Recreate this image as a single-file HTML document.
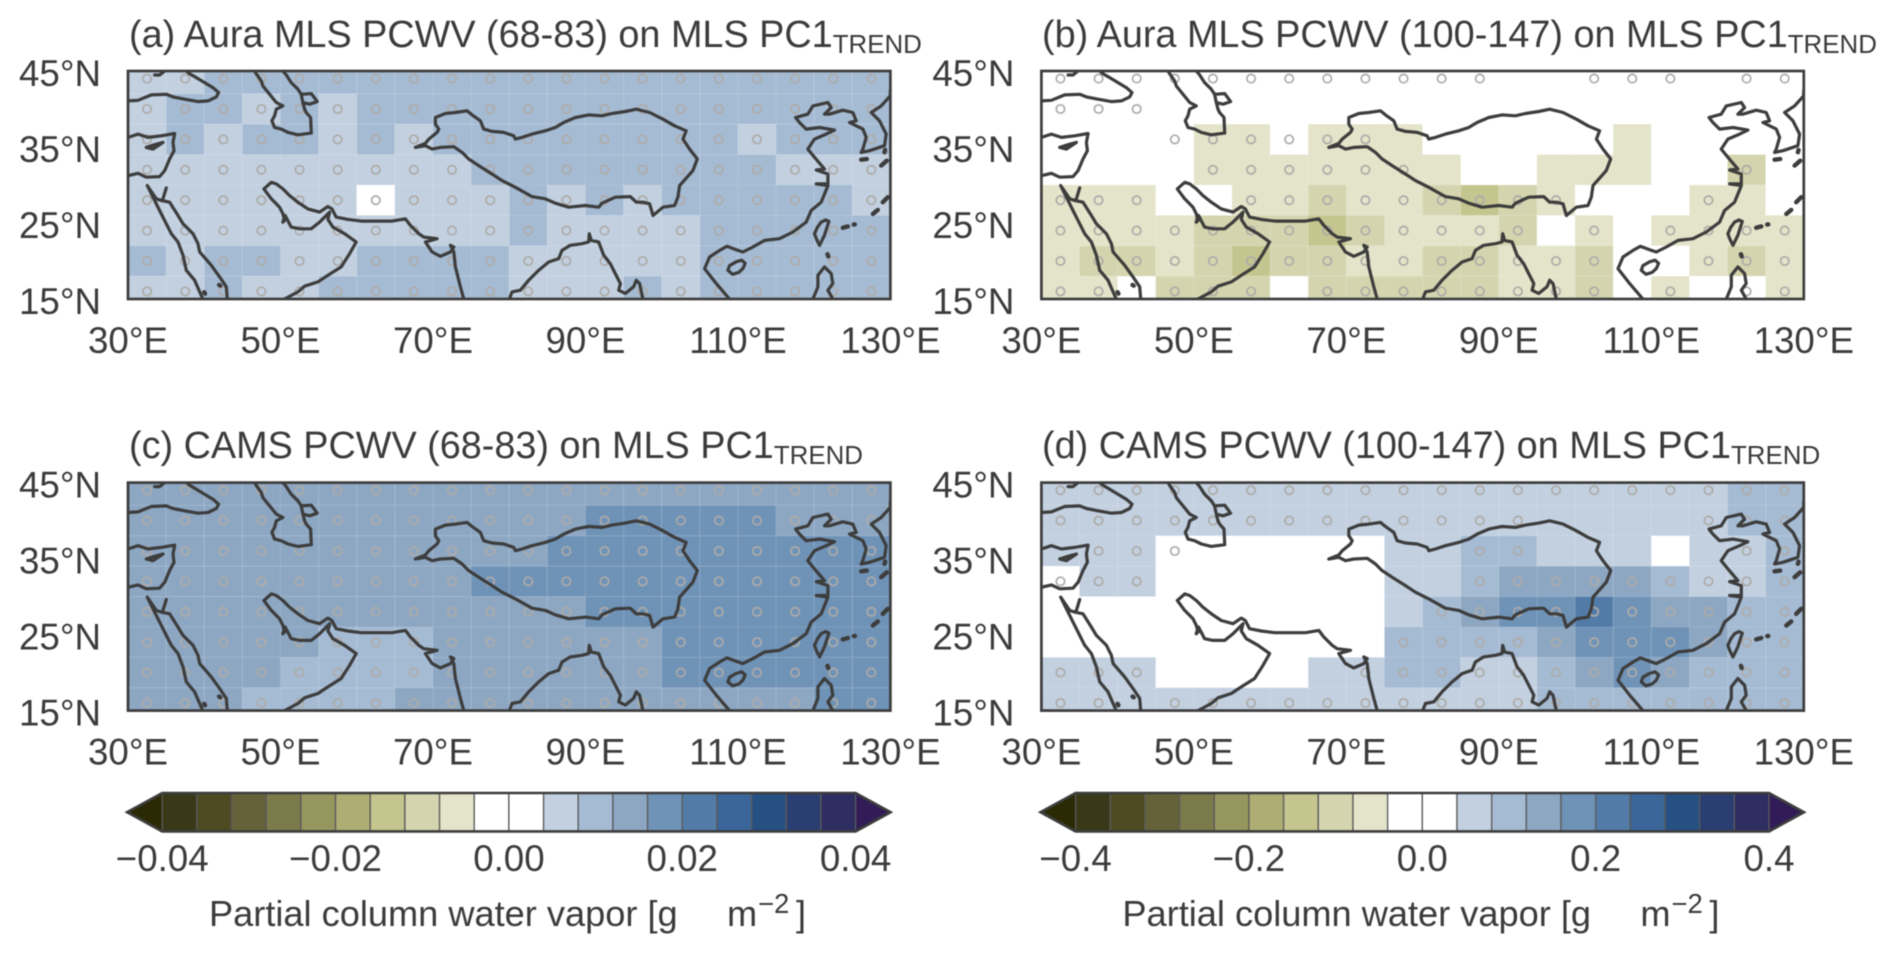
<!DOCTYPE html>
<html lang="en">
<head>
<meta charset="utf-8">
<title>PCWV regression maps on MLS PC1 trend</title>
<style>
html,body{margin:0;padding:0;background:#fff;width:1892px;height:954px;overflow:hidden}
svg{display:block;font-family:"Liberation Sans",Arial,sans-serif;fill:#3b3b3b;filter:blur(0.45px)}
</style>
</head>
<body>
<svg id="figure" width="1892" height="954" viewBox="0 0 1892 954" xmlns="http://www.w3.org/2000/svg">
  <rect width="1892" height="954" fill="#fff"/>
  <text x="129" y="47" font-size="37.8">(a) Aura MLS PCWV (68-83) on MLS PC1<tspan dy="6" font-size="25.9">TREND</tspan></text>
  <text x="1042" y="47" font-size="37.8">(b) Aura MLS PCWV (100-147) on MLS PC1<tspan dy="6" font-size="25.9">TREND</tspan></text>
  <text x="129" y="458" font-size="37.8">(c) CAMS PCWV (68-83) on MLS PC1<tspan dy="6" font-size="25.9">TREND</tspan></text>
  <text x="1042" y="458" font-size="37.8">(d) CAMS PCWV (100-147) on MLS PC1<tspan dy="6" font-size="25.9">TREND</tspan></text>
  <g>
    <text x="209" y="926" font-size="36.2">Partial column water vapor [g</text>
    <text x="727" y="926" font-size="36.2">m</text>
    <text x="758" y="913" font-size="27.5">−2</text>
    <text x="796" y="926" font-size="36.2">]</text>
  </g>
  <g>
    <text x="1122.4" y="926" font-size="36.2">Partial column water vapor [g</text>
    <text x="1640.4" y="926" font-size="36.2">m</text>
    <text x="1671.4" y="913" font-size="27.5">−2</text>
    <text x="1709.4" y="926" font-size="36.2">]</text>
  </g>
</svg>
<script>
// ---------- data ----------
const lonTicks = [30, 50, 70, 90, 110, 130];
const latTicks = [45, 35, 25, 15];
const lonTickLabels = ['30°E', '50°E', '70°E', '90°E', '110°E', '130°E'];
const latTickLabels = ['45°N', '35°N', '25°N', '15°N'];
const cellLons = [32.5,37.5,42.5,47.5,52.5,57.5,62.5,67.5,72.5,77.5,82.5,87.5,92.5,97.5,102.5,107.5,112.5,117.5,122.5,127.5];
const cellLats = [44, 40, 36, 32, 28, 24, 20, 16];

const panelAValues = [
[.006,.006,.01,.01,.01,.01,.01,.01,.01,.01,.01,.01,.01,.01,.01,.01,.01,.01,.01,.01],
[.006,.01,.01,.006,.01,.006,.01,.01,.01,.01,.01,.01,.01,.01,.01,.01,.01,.01,.01,.01],
[.006,.01,.006,.01,.01,.006,.01,.006,.01,.01,.01,.01,.01,.01,.01,.01,.006,.01,.01,.01],
[.006,.006,.006,.006,.006,.006,.006,.006,.006,.01,.01,.01,.01,.01,.01,.01,.01,.006,.006,.006],
[.006,.006,.006,.006,.006,.006,.001,.006,.006,.006,.01,.006,.01,.006,.01,.01,.01,.01,.01,.006],
[.006,.006,.006,.006,.006,.006,.006,.006,.006,.006,.01,.006,.006,.006,.006,.01,.01,.01,.01,.01],
[.01,.006,.01,.01,.006,.006,.01,.01,.01,.01,.006,.006,.006,.006,.006,.01,.01,.01,.01,.01],
[.006,.006,.01,.006,.006,.01,.01,.01,.01,.01,.006,.006,.006,.01,.006,.01,.01,.01,.01,.01]];
const panelBValues = [
[0,0,0,0,0,0,0,0,0,0,0,0,0,0,0,0,0,0,0,0],
[0,0,0,0,0,0,0,0,0,0,0,0,0,0,0,0,0,0,0,0],
[0,0,0,0,-.06,-.06,0,-.06,-.06,-.06,0,0,0,0,0,-.06,0,0,0,0],
[0,0,0,0,-.06,-.06,-.06,-.06,-.06,-.06,-.06,0,0,-.06,-.06,-.06,0,0,-.1,0],
[-.06,-.06,-.06,0,0,-.06,-.06,-.1,-.06,-.06,-.1,-.14,-.1,-.06,0,0,0,-.06,-.06,0],
[-.06,-.06,-.06,-.06,-.1,-.1,-.1,-.14,-.1,-.06,-.06,-.06,-.1,0,-.06,0,-.06,-.06,-.06,-.06],
[-.06,-.1,-.1,-.06,-.1,-.14,-.1,-.1,-.06,-.06,-.1,-.1,-.06,-.06,-.1,0,0,-.06,-.1,-.06],
[-.06,-.06,0,-.1,-.1,-.1,0,-.1,-.1,-.1,-.1,-.1,-.06,-.06,-.1,0,-.06,0,0,-.06]];
const panelCValues = [
[.014,.014,.014,.014,.014,.014,.014,.014,.014,.014,.014,.014,.014,.014,.014,.014,.014,.014,.014,.014],
[.014,.014,.014,.014,.014,.014,.014,.014,.014,.014,.014,.014,.018,.018,.018,.018,.018,.014,.014,.014],
[.014,.014,.014,.014,.014,.014,.014,.014,.014,.014,.014,.018,.018,.018,.018,.018,.018,.018,.018,.018],
[.014,.014,.014,.014,.014,.014,.014,.014,.014,.018,.018,.018,.018,.018,.018,.018,.018,.018,.018,.018],
[.014,.014,.014,.014,.014,.014,.014,.014,.014,.014,.014,.014,.018,.018,.018,.018,.018,.018,.018,.018],
[.014,.014,.014,.014,.014,.01,.01,.01,.014,.014,.014,.014,.014,.014,.018,.018,.018,.018,.018,.018],
[.014,.014,.014,.014,.01,.01,.01,.01,.014,.014,.014,.014,.014,.014,.018,.018,.018,.018,.018,.018],
[.014,.014,.014,.01,.01,.01,.01,.014,.014,.014,.014,.014,.014,.014,.014,.014,.014,.014,.018,.018]];
const panelDValues = [
[.06,.06,.06,.06,.06,.06,.06,.06,.06,.06,.06,.06,.06,.06,.06,.06,.06,.06,.1,.1],
[.06,.06,.06,.06,.06,.06,.06,.06,.06,.06,.06,.06,.06,.06,.06,.06,.06,.06,.1,.1],
[.06,.06,.06,0,0,0,0,0,0,.06,.06,.1,.1,.06,.06,.06,0,.06,.06,.1],
[0,.06,.06,0,0,0,0,0,0,.06,.06,.1,.14,.14,.14,.14,.1,.06,.06,.1],
[0,0,0,0,0,0,0,0,0,.06,.1,.14,.18,.18,.22,.18,.14,.14,.1,.1],
[0,0,0,0,0,0,0,0,0,.1,.1,.1,.1,.14,.18,.18,.18,.14,.1,.1],
[.06,.06,.06,0,0,0,0,.06,.06,.1,.1,.06,.06,.1,.14,.18,.14,.1,.1,.1],
[.06,.06,.06,.06,.06,.06,.06,.06,.06,.06,.06,.06,.06,.1,.1,.1,.1,.1,.1,.1]];

const panelASignificant = [
[1,1,1,1,1,1,1,1,1,1,1,1,1,1,1,1,1,1,1,1],[1,1,1,1,1,1,1,1,1,1,1,1,1,1,1,1,1,1,1,1],
[1,1,1,1,1,1,1,1,1,1,1,1,1,1,1,1,1,1,1,1],[1,1,1,1,1,1,1,1,1,1,1,1,1,1,1,1,1,1,1,1],
[1,1,1,1,1,1,1,1,1,1,1,1,1,1,1,1,1,1,1,1],[1,1,1,1,1,1,1,1,1,1,1,1,1,1,1,1,1,1,1,1],
[1,1,1,1,1,1,1,1,1,1,1,1,1,1,1,1,1,1,1,1],[1,1,1,1,1,1,1,1,1,1,1,1,1,1,1,1,1,1,1,1]];
const panelBSignificant = [
[1,1,1,1,1,1,1,1,1,1,1,1,0,0,1,1,1,0,1,1],
[1,1,1,0,0,0,0,0,0,0,0,0,0,0,0,0,0,0,0,0],
[0,0,0,1,1,1,1,1,1,0,0,0,0,0,0,0,0,0,0,0],
[0,0,0,0,1,1,1,1,1,1,0,0,0,0,0,0,0,0,1,0],
[1,1,1,0,0,1,1,1,1,1,1,1,1,1,0,0,0,1,0,0],
[1,1,1,1,1,1,1,1,1,1,1,1,1,0,1,0,1,1,1,1],
[1,1,1,1,1,1,1,1,1,1,1,1,1,1,1,0,0,1,1,1],
[1,1,0,1,1,1,0,1,1,1,1,1,1,1,1,0,1,0,1,1]];
const panelCSignificant = [
[1,1,1,1,1,1,1,1,1,1,1,1,1,1,1,1,1,1,1,1],[1,1,1,1,1,1,1,1,1,1,1,1,1,1,1,1,1,1,1,1],
[1,1,1,1,1,1,1,1,1,1,1,1,1,1,1,1,1,1,1,1],[1,1,1,1,1,1,1,1,1,1,1,1,1,1,1,1,1,1,1,1],
[1,1,1,1,1,1,1,1,1,1,1,1,1,1,1,1,1,1,1,1],[1,1,1,1,1,1,1,1,1,1,1,1,1,1,1,1,1,1,1,1],
[1,1,1,1,1,1,1,1,1,1,1,1,1,1,1,1,1,1,1,1],[1,1,1,1,1,1,1,1,1,1,1,1,1,1,1,1,1,1,1,1]];
const panelDSignificant = [
[1,1,1,1,1,1,1,1,1,1,1,1,1,1,1,1,1,1,1,1],
[1,1,1,1,1,1,1,1,1,1,1,1,1,0,0,0,0,1,1,1],
[0,1,1,1,0,0,0,0,0,0,0,1,1,0,0,0,0,0,1,1],
[1,1,1,0,0,0,0,0,0,0,0,1,1,1,1,1,1,1,1,1],
[0,0,0,0,0,0,0,0,0,0,1,1,1,1,1,1,1,1,1,1],
[0,0,0,0,0,0,0,0,0,1,1,1,1,1,1,1,1,1,1,1],
[1,1,1,0,0,0,0,0,1,1,1,1,1,1,1,1,1,1,1,1],
[1,1,0,1,1,1,1,1,1,1,1,1,1,1,1,1,1,1,1,1]];

const colorLevels = ['#39391a','#4e4a22','#65623a','#7b7a4b','#96965f','#adad74','#c5c58f','#d4d5ae','#e3e4c9','#ffffff','#ffffff','#c2d0e0','#a5bbd3','#8da7c3','#6f93b7','#527ca7','#3a6699','#265082','#2a3e72','#2e2e63'];
const colorUnder = '#2b2a05';
const colorOver = '#321c58';
const colorbarLeftTicks = [-0.04, -0.02, 0, 0.02, 0.04];
const colorbarLeftLabels = ['−0.04', '−0.02', '0.00', '0.02', '0.04'];
const colorbarRightTicks = [-0.4, -0.2, 0, 0.2, 0.4];
const colorbarRightLabels = ['−0.4', '−0.2', '0.0', '0.2', '0.4'];

// Coastlines and plateau outline, [lon, lat]
const coastBlackSea = [[30,41.07],[31.31,41.15],[33.06,41.85],[35.03,41.94],[35.9,41.59],[37.43,41.29],[39.18,40.98],[40.49,41.07],[41.58,41.59],[41.89,42.16],[41.14,42.82],[40.05,43.47],[38.96,44.13],[38.08,44.65],[37.65,45]];
const coastCrimea = [[33.5,44.48],[34.15,44.48],[34.8,45]];
const coastCaspian = [[46.6,45],[46.82,44.65],[47.48,43.69],[47.7,43.03],[48.57,41.94],[49.45,40.85],[50.32,40.41],[49.45,39.97],[49.23,39.1],[48.88,38.45],[49.23,37.57],[50.1,37.35],[50.98,36.92],[52.29,36.61],[54.04,36.83],[53.95,38.88],[53.38,39.54],[53.16,39.97],[52.94,40.85],[52.72,41.94],[52.29,42.6],[51.41,43.47],[50.76,44.48],[50.32,45]];
const coastKaraBogaz = [[52.72,41.94],[54.04,42.03],[54.82,40.98],[53.82,40.63],[52.94,40.85]];
const coastLevant = [[30,36.26],[31.31,36.7],[32.62,36.26],[34.37,36.48],[36.12,36.78],[35.9,35.6],[36.03,34.51],[35.46,33.42],[34.81,31.89],[34.15,31.1],[32.4,31.02],[31.31,31.54],[30,31.23]];
const coastCyprus = [[32.4,34.95],[33.28,34.73],[34.59,35.6],[33.5,35.3],[32.4,34.95]];
const coastRedSeaWest = [[32.53,29.92],[33.28,28.39],[34.15,26.65],[35.03,24.9],[35.68,23.59],[36.56,22.5],[37.21,20.75],[37.65,18.78],[38.74,17.47],[39.4,15.94],[39.83,15]];
const coastSinai = [[32.53,29.92],[33.71,28.18],[34.37,27.96],[34.59,28.18],[35.03,29.62]];
const coastRedSeaEast = [[34.37,27.96],[35.46,27.74],[36.56,25.99],[37.21,24.9],[38.52,23.59],[39.18,22.28],[39.4,21.18],[40.93,19.44],[42.02,17.91],[42.89,16.6],[43.02,15]];
const coastRedSeaIslandA = [[40,15.9],[40.1,15.7]];
const coastRedSeaIslandB = [[41.95,16.85],[42.1,16.75]];
const coastGulfIran = [[47.83,29.49],[48.79,30.36],[49.45,30.14],[50.32,29.49],[51.19,28.61],[52.29,27.74],[53.6,26.86],[55.13,26.43],[56.22,27.17],[56.74,26.86],[57.31,25.77],[58.84,25.47],[60.59,25.25],[63.33,25.25],[64.64,25.25],[66.39,25.55],[67.04,24.68],[68.14,23.59],[68.79,23.15],[70.54,22.93],[69.01,22.5],[69.89,21.18],[70.98,20.62],[72.29,21.18],[72.73,21.84],[72.29,22.06],[72.73,21.18],[72.94,19.22],[73.6,16.6],[74.04,15]];
const coastArabia = [[47.83,29.49],[48.79,28.18],[49.88,27.08],[50.32,26.21],[50.54,25.33],[50.3,25.1],[50.6,26],[51.41,24.46],[52.51,24.24],[54.04,24.24],[55.13,25.12],[56.44,26.43],[56.22,25.47],[56.88,24.46],[58.41,23.59],[59.93,22.5],[59.06,20.96],[57.97,19.22],[56.22,18.12],[54.91,17.25],[53.16,16.68],[52.29,15.94],[50.54,15]];
const coastIndiaEast = [[80.02,15],[80.37,15.94],[81.47,16.16],[82.56,17.47],[83.87,18.78],[85.18,19.87],[86.49,20.31],[86.93,21.4],[88.02,22.06],[89.55,22.28],[90.42,22.5],[90.51,23.59],[90.77,22.71],[91.74,22.5],[92.39,20.75],[93.26,19.65],[93.92,18.34],[94.58,17.03],[94.36,16.16],[95.23,15.72],[96.32,16.6],[96.67,17.47],[97.1,17.03],[97.54,15]];
const tibetanPlateauOutline = [[67.7,34.95],[69.01,35.47],[69.45,36.04],[70.54,36.92],[70.76,37.35],[70.32,38.01],[70.32,38.88],[71.63,39.41],[72.94,39.54],[74.47,39.76],[75.13,39.23],[76.22,38.45],[76.66,37.35],[77.75,37.05],[79.28,36.92],[80.59,36.48],[80.81,36.04],[81.68,36.26],[82.99,36.7],[84.74,37.13],[86.05,37.57],[87.15,38.23],[88.68,38.88],[90.42,39.23],[92.17,39.1],[93.48,39.41],[95.23,39.67],[96.67,39.97],[98.42,39.54],[100.17,38.66],[101.7,37.79],[103.22,37.13],[102.79,36.04],[103.66,34.73],[104.67,33.42],[104.1,31.89],[102.35,29.92],[102.13,28.39],[101.7,27.3],[100.17,27.08],[98.86,25.99],[98.42,27.52],[97.54,27.74],[96.67,27.74],[95.89,28.48],[93.92,28.39],[92.17,27.61],[91.74,27.08],[89.99,27.3],[87.8,27.08],[86.05,27.61],[84.74,28.18],[82.99,28.48],[80.81,29.7],[79.06,30.58],[77.75,31.45],[76,32.55],[74.69,33.42],[73.82,34.29],[72.73,35.04],[70.98,34.95],[69.89,34.73],[69.01,35.17],[67.7,34.95]];
const coastChina = [[108.9,15],[107.16,17.03],[105.63,19],[106.28,20.53],[107.6,21.4],[108.56,21.93],[109.78,21.49],[110.65,21.18],[111.97,21.84],[113.5,22.71],[115.46,22.93],[117.21,23.81],[118.96,25.12],[119.61,26.65],[120.92,27.74],[121.8,29.92],[120.27,30.14],[121.8,30.14],[121.8,31.45],[120.27,31.98],[121.36,32.11],[120.05,33.64],[119.17,34.73],[120.05,36.04],[121.58,36.7],[122.67,37.22],[120.71,37.57],[118.96,37.35],[118.08,38.23],[117.56,38.88],[119.17,39.32],[119.83,40.41],[121.8,40.85],[122.23,40.19],[121.36,39.32],[122,39.32],[123.76,39.84],[125.07,39.54],[125.51,38.45],[124.64,38.23],[126.39,37.35],[126.82,36.26],[126.39,34.73],[126.17,34.29],[127.26,34.51],[129.23,35.17],[129.45,36.7],[128.57,38.45],[127.48,39.54],[128.79,40.41],[129.97,41.72],[130,42.5]];
const coastHainan = [[108.69,18.78],[108.9,19.4],[109.78,19.9],[110.5,20.1],[110.95,19.7],[110.65,19],[110.1,18.5],[109.3,18.25],[108.69,18.78]];
const coastTaiwan = [[120.71,22.06],[120.3,22.9],[120.05,23.59],[120.4,24.4],[120.92,25.12],[121.5,25.4],[121.93,25.2],[121.65,24.3],[121.36,23.4],[120.71,22.06]];
const coastLuzon = [[119.83,15],[120.49,16.6],[120.49,18.12],[121.36,19.22],[122.23,18.34],[122.45,17.03],[121.8,16.16],[122.45,15]];
const islandRyukyuA = [[123.76,24.37],[124.42,24.55]];
const islandRyukyuB = [[125.2,24.8],[125.35,24.82]];
const islandRyukyuC = [[127.7,26.2],[128.35,26.73]];
const islandRyukyuD = [[129,27.74],[129.66,28.39]];
const islandJeju = [[126.17,33.33],[126.9,33.42]];
const islandKyushu = [[128.79,32.55],[129.53,33.2]];
const islandTsushima = [[129.23,34.3],[129.3,34.6]];
const islandBabuyan = [[121.75,20.9],[121.85,20.6]];
const coastLines = [coastBlackSea,coastCrimea,coastCaspian,coastKaraBogaz,coastLevant,coastCyprus,coastRedSeaWest,coastSinai,coastRedSeaEast,coastGulfIran,coastArabia,coastIndiaEast,tibetanPlateauOutline,coastChina,coastHainan,coastTaiwan,coastLuzon];
const islandLines = [coastRedSeaIslandA,coastRedSeaIslandB,islandRyukyuA,islandRyukyuB,islandRyukyuC,islandRyukyuD,islandJeju,islandKyushu,islandTsushima,islandBabuyan];

// ---------- drawing ----------
const NS = 'http://www.w3.org/2000/svg';
const figure = document.getElementById('figure');
function make(tag, attrs, parent) {
  const el = document.createElementNS(NS, tag);
  for (const k in attrs) el.setAttribute(k, attrs[k]);
  parent.appendChild(el);
  return el;
}
const AXIS_W = 762.4, AXIS_H = 228;

function drawPanel(id, left, top, values, significant, range) {
  const xScale = lon => left + (lon - 30) / 100 * AXIS_W;
  const yScale = lat => top + (45 - lat) / 30 * AXIS_H;
  const step = range / 10;
  const colorFor = v => colorLevels[Math.max(0, Math.min(19, Math.floor((v + range) / step + 1e-9)))];

  const group = make('g', {}, figure);
  
  

  const clip = make('clipPath', {id: 'clip-' + id}, group);
  make('rect', {x: left, y: top, width: AXIS_W, height: AXIS_H}, clip);

  const cells = make('g', {'clip-path': 'url(#clip-' + id + ')'}, group);
  
  
  values.forEach((row, r) => row.forEach((v, c) => {
    const cell = make('rect', {
      x: xScale(cellLons[c] - 2.5), y: yScale(cellLats[r] + 2),
      width: xScale(cellLons[c] + 2.5) - xScale(cellLons[c] - 2.5),
      height: yScale(cellLats[r] - 2) - yScale(cellLats[r] + 2),
      fill: colorFor(v), stroke: '#ffffff', 'stroke-opacity': 0.09, 'stroke-width': 0.8
    }, cells);
    
    
  }));

  const dots = make('g', {fill: 'none', stroke: '#aeaba8', 'stroke-width': 1.7}, group);
  
  
  significant.forEach((row, r) => row.forEach((s, c) => {
    if (!s) return;
    const dot = make('circle', {cx: xScale(cellLons[c]), cy: yScale(cellLats[r]), r: 4.2}, dots);
    
    
  }));

  const toPath = line => line.map((p, i) => (i ? 'L' : 'M') + xScale(p[0]).toFixed(1) + ' ' + yScale(p[1]).toFixed(1)).join('');
  const coast = make('path', {
    d: coastLines.map(toPath).join(''), fill: 'none', stroke: '#3d3d3d', 'stroke-width': 3.2,
    'stroke-linejoin': 'round', 'stroke-linecap': 'round', 'clip-path': 'url(#clip-' + id + ')'
  }, group);
  
  
  const islands = make('path', {
    d: islandLines.map(toPath).join(''), fill: 'none', stroke: '#3d3d3d', 'stroke-width': 4.4,
    'stroke-linecap': 'round', 'clip-path': 'url(#clip-' + id + ')'
  }, group);
  
  

  const frame = make('rect', {x: left, y: top, width: AXIS_W, height: AXIS_H, fill: 'none', stroke: '#3d3d3d', 'stroke-width': 2.7}, group);
  
  

  latTicks.forEach((lat, i) => {
    const t = make('text', {x: left - 27, y: yScale(lat) + 15, 'font-size': 36.7, 'text-anchor': 'end'}, group);
    
    
    t.textContent = latTickLabels[i];
  });
  lonTicks.forEach((lon, i) => {
    const t = make('text', {x: xScale(lon), y: top + AXIS_H + 54, 'font-size': 36.7, 'text-anchor': 'middle'}, group);
    
    
    t.textContent = lonTickLabels[i];
  });
}

function drawColorbar(id, left, ticks, labels, range) {
  const top = 793, height = 38.4, width = 693.4, tip = 35;
  const xScale = v => left + (v + range) / (2 * range) * width;
  const group = make('g', {}, figure);
  
  

  const under = make('polygon', {points: [left, top, left, top + height, left - tip, top + height / 2].join(' '), fill: colorUnder}, group);
  
  
  const over = make('polygon', {points: [left + width, top, left + width, top + height, left + width + tip, top + height / 2].join(' '), fill: colorOver}, group);
  
  

  colorLevels.forEach((color, i) => {
    const seg = make('rect', {
      x: left + i * width / 20, y: top, width: width / 20, height: height,
      fill: color, stroke: '#5a5a5a', 'stroke-width': 1.3
    }, group);
    
    
  });
  const outline = make('polygon', {
    points: [left - tip, top + height / 2, left, top, left + width, top, left + width + tip, top + height / 2, left + width, top + height, left, top + height].join(' '),
    fill: 'none', stroke: '#3d3d3d', 'stroke-width': 2.6
  }, group);
  
  

  ticks.forEach((v, i) => {
    const t = make('text', {x: xScale(v), y: 871, 'font-size': 36.7, 'text-anchor': 'middle'}, group);
    
    
    t.textContent = labels[i];
  });
}

drawPanel('a', 128, 71, panelAValues, panelASignificant, 0.04);
drawPanel('b', 1041.4, 71, panelBValues, panelBSignificant, 0.4);
drawPanel('c', 128, 482.6, panelCValues, panelCSignificant, 0.04);
drawPanel('d', 1041.4, 482.6, panelDValues, panelDSignificant, 0.4);
drawColorbar('left', 162.2, colorbarLeftTicks, colorbarLeftLabels, 0.04);
drawColorbar('right', 1075.6, colorbarRightTicks, colorbarRightLabels, 0.4);
</script>
</body>
</html>
